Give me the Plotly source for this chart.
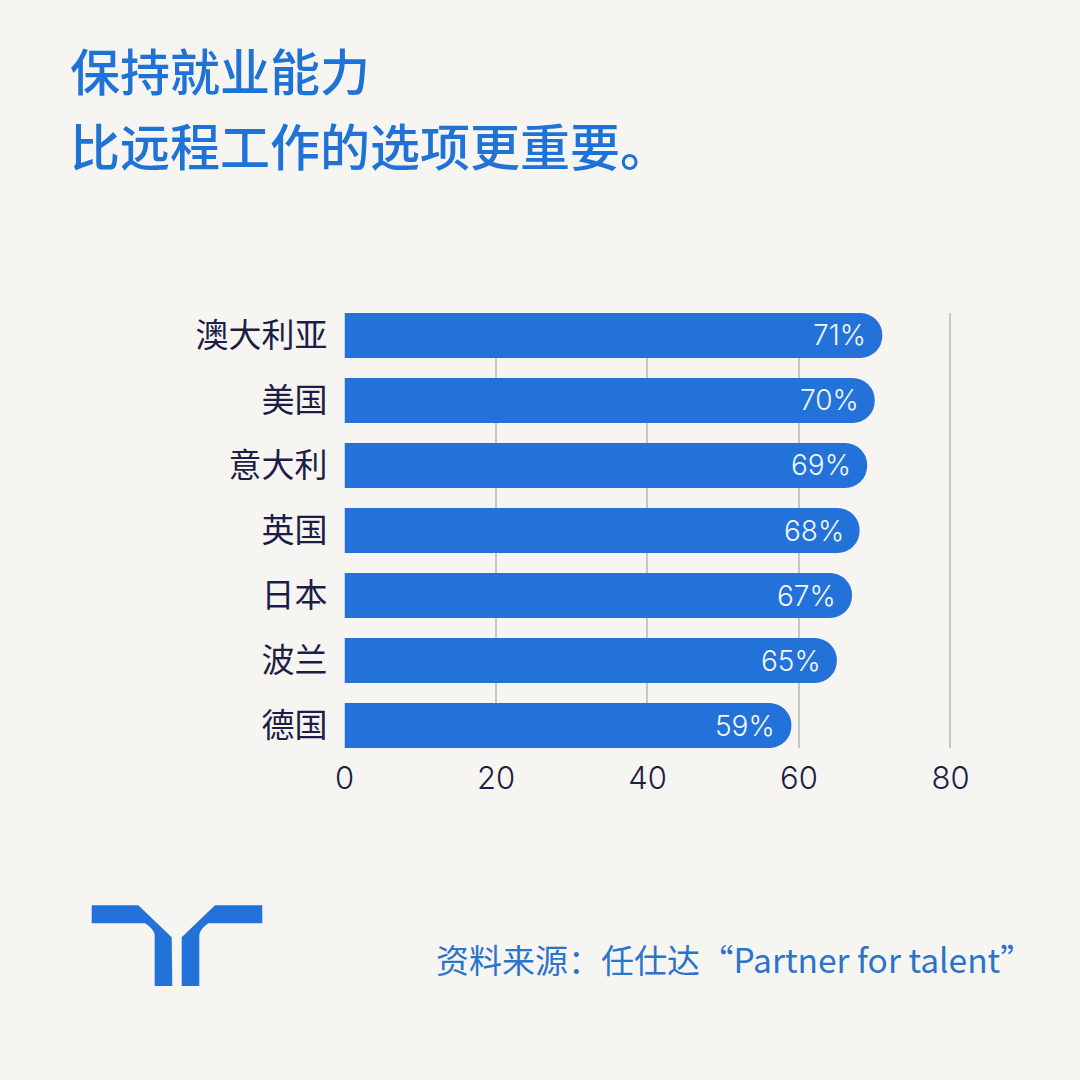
import plotly.graph_objects as go

countries = ["澳大利亚", "美国", "意大利", "英国", "日本", "波兰", "德国"]
shares = [71, 70, 69, 68, 67, 65, 59]
labels = ["71%", "70%", "69%", "68%", "67%", "65%", "59%"]
x_ticks = [0, 20, 40, 60, 80]
title_lines = ["保持就业能力", "比远程工作的选项更重要。"]
source_cn = "资料来源：任仕达"
source_en = "“Partner for talent”"

W = 1080
BG = "#f7f5f2"
BLUE = "#2272d9"
NAVY = "#1c1e47"
CJK = "Noto Sans CJK SC"

def px(x):
    return x / W

def py(y):
    return 1 - y / W

fig = go.Figure(go.Bar(
    x=shares, y=countries, orientation="h", width=45 / 65,
    marker=dict(color=BLUE, cornerradius=22, line=dict(width=0)),
    hoverinfo="skip",
))

annotations = [
    dict(x=v, y=c, text=t, xref="x", yref="y", showarrow=False, xanchor="right", xshift=-14,
         font=dict(family="Inter", size=28, color="#f4f7fc", weight=300))
    for v, c, t in zip(shares, countries, labels)
]
for line, y in zip(title_lines, [69, 144]):
    annotations.append(dict(x=px(68), y=py(y), xref="paper", yref="paper", text=line, showarrow=False,
                            xanchor="left", yanchor="middle",
                            font=dict(family=CJK, size=50, color="#1f72d6", weight=500)))
annotations.append(dict(x=px(434), y=py(958), xref="paper", yref="paper",
                        text=source_cn + f'<span style="font-size:33.5px">{source_en}</span>',
                        showarrow=False, xanchor="left", yanchor="middle",
                        font=dict(family=CJK, size=33, color="#2a74cb", weight=400)))

logo_left = ("M91.7,905.3 L138.3,905.3 L171.7,937.3 L172.3,986 L154.7,986 L154.7,935 "
             "Q154,929 145,923.3 L91.7,923.3 Z")
logo_right = ("M262.3,905.3 L215,905.3 L181.7,937.3 L181.7,986 L199.3,986 L199.3,935 "
              "Q200,929 208.3,923.3 L262.3,923.3 Z")

def to_paper(path):
    out = []
    for tok in path.split():
        if "," in tok:
            head = tok[0] if tok[0].isalpha() else ""
            a, b = tok.lstrip("MLQ").split(",")
            out.append(f"{head}{float(a) / W:.5f},{1 - float(b) / W:.5f}")
        else:
            out.append(tok)
    return " ".join(out)

shapes = [dict(type="path", xref="paper", yref="paper", path=to_paper(p),
               fillcolor=BLUE, line=dict(width=0)) for p in (logo_left, logo_right)]

fig.update_layout(
    width=W, height=W, autosize=False,
    margin=dict(l=0, r=0, t=0, b=0),
    paper_bgcolor=BG, plot_bgcolor=BG,
    showlegend=False,
    annotations=annotations, shapes=shapes,
    xaxis=dict(domain=[px(344.5), px(952)], range=[0, 80.2], tickvals=x_ticks,
               automargin=False,
               showgrid=True, gridcolor="#c8c6c3", gridwidth=1.5, zeroline=False, showline=False,
               ticks="", ticklabelstandoff=9,
               tickfont=dict(family="Inter", size=31, color=NAVY, weight=300)),
    yaxis=dict(domain=[py(748), py(313)], autorange=False, range=[6.346, -0.346],
               automargin=False,
               type="category", categoryorder="array", categoryarray=countries,
               showgrid=False, zeroline=False, showline=False, ticks="", ticklabelstandoff=16,
               tickfont=dict(family=CJK, size=33, color=NAVY)),
)
fig.write_html("out.html", config={"responsive": False, "displayModeBar": False},
               post_script="document.documentElement.style.margin='0';document.body.style.margin='0';document.body.style.overflow='hidden';document.documentElement.style.background='#f7f5f2';document.body.style.background='#f7f5f2';")
